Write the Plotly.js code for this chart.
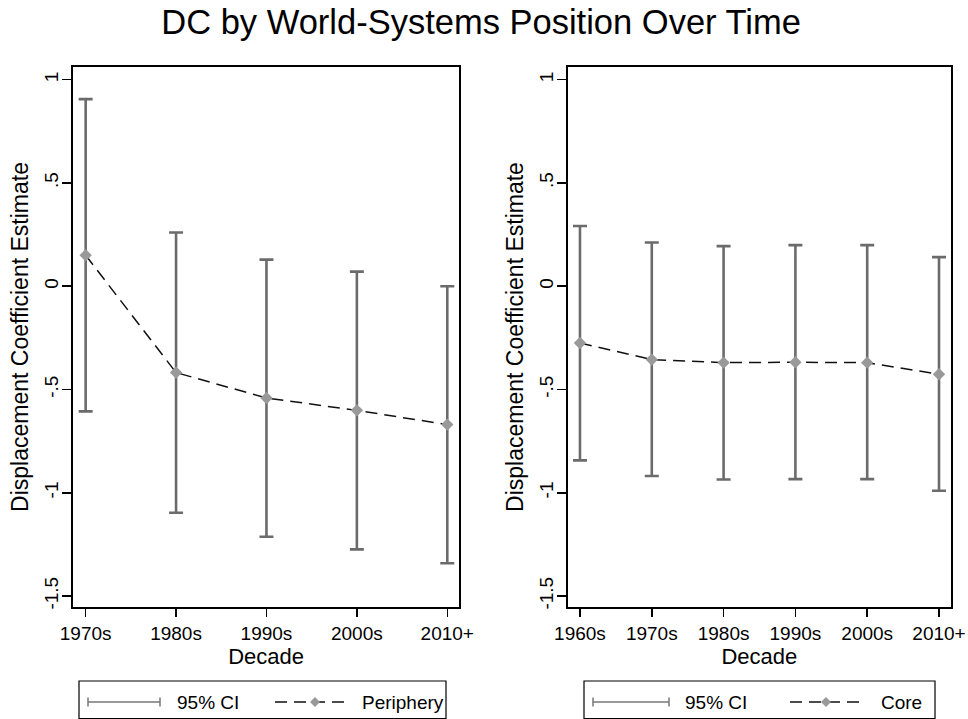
<!DOCTYPE html>
<html>
<head>
<meta charset="utf-8">
<script src="https://cdn.plot.ly/plotly-3.0.1.min.js"></script>
<style>html,body{margin:0;padding:0;background:#fff;}#chart{width:968px;height:719px;}</style>
</head>
<body>
<div id="chart"></div>
<script>
// ---- data ----
const periphDecades = ["1970s", "1980s", "1990s", "2000s", "2010+"];
const periphEst     = [0.150, -0.418, -0.541, -0.601, -0.670];
const periphUpper   = [0.906, 0.260, 0.129, 0.071, 0.000];
const periphLower   = [-0.606, -1.097, -1.213, -1.274, -1.341];

const coreDecades = ["1960s", "1970s", "1980s", "1990s", "2000s", "2010+"];
const coreEst     = [-0.275, -0.355, -0.370, -0.368, -0.370, -0.426];
const coreUpper   = [0.292, 0.212, 0.194, 0.199, 0.199, 0.141];
const coreLower   = [-0.843, -0.919, -0.936, -0.934, -0.934, -0.990];

const yTickVals = [1, 0.5, 0, -0.5, -1, -1.5];
const yTickText = ["1", ".5", "0", "-.5", "-1", "-1.5"];

const titleText = "DC by World-Systems Position Over Time";
const yTitle = "Displacement Coefficient Estimate";
const xTitle = "Decade";
const ciLabel = "95% CI";
const periphLabel = "Periphery";
const coreLabel = "Core";

// ---- styling ----
const FONT = "Liberation Sans, Arial, Helvetica, sans-serif";
const W = 968, H = 719;
const M = {l: 73, r: 17, t: 67, b: 112};
const PW = W - M.l - M.r, PH = H - M.t - M.b;
const px = x => (x - M.l) / PW;
const py = y => (H - M.b - y) / PH;

const ciColor = "#6b6b6b";
const markerColor = "#999999";

function seriesTraces(xs, est, up, lo, xa, ya) {
  const base = {type: "scatter", x: xs, y: est, xaxis: xa, yaxis: ya, showlegend: false, hoverinfo: "skip"};
  return [
    Object.assign({}, base, {
      mode: "markers", marker: {size: 0.1, opacity: 0},
      error_y: {
        type: "data", symmetric: false,
        array: up.map((u, i) => u - est[i]),
        arrayminus: lo.map((l, i) => est[i] - l),
        color: ciColor, thickness: 2.6, width: 7
      }
    }),
    Object.assign({}, base, {
      mode: "lines+markers",
      line: {color: "#111111", width: 1.5, dash: "12px,7px"},
      marker: {symbol: "diamond", size: 9.5, color: markerColor, line: {width: 0}}
    })
  ];
}

const traces = [
  ...seriesTraces(periphDecades, periphEst, periphUpper, periphLower, "x", "y"),
  ...seriesTraces(coreDecades, coreEst, coreUpper, coreLower, "x2", "y2")
];

const yAxisCommon = {
  range: [-1.553, 1.0615],
  tickmode: "array", tickvals: yTickVals, ticktext: yTickText,
  tickangle: -90, ticks: "outside", ticklen: 9, tickwidth: 1.5, tickcolor: "#000",
  ticklabelstandoff: -4,
  showline: true, linecolor: "#000", linewidth: 2, mirror: true,
  showgrid: false, zeroline: false,
  tickfont: {family: FONT, size: 19, color: "#000"},
  title: {text: yTitle, font: {family: FONT, size: 23, color: "#000"}, standoff: 6},
  automargin: false, fixedrange: true
};
const xAxisCommon = {
  type: "category",
  ticks: "outside", ticklen: 8, tickwidth: 1.5, tickcolor: "#000",
  showline: true, linecolor: "#000", linewidth: 2, mirror: true,
  showgrid: false, zeroline: false,
  tickfont: {family: FONT, size: 19, color: "#000"},
  title: {text: xTitle, font: {family: FONT, size: 22, color: "#000"}, standoff: 6},
  automargin: false, fixedrange: true
};

const layout = {
  width: W, height: H,
  margin: M,
  paper_bgcolor: "#fff", plot_bgcolor: "#fff",
  font: {family: FONT, color: "#000"},
  showlegend: false,
  title: {text: titleText, font: {family: FONT, size: 34.5, color: "#000"},
          x: 0.497, xref: "container", y: 1 - 22 / H, yref: "container", yanchor: "middle"},
  xaxis: Object.assign({}, xAxisCommon, {domain: [0, px(459.3)], range: [-0.14, 4.133], anchor: "y"}),
  yaxis: Object.assign({}, yAxisCommon, {domain: [0, 1], anchor: "x"}),
  xaxis2: Object.assign({}, xAxisCommon, {domain: [px(567.7), 1], range: [-0.171, 5.167], anchor: "y2"}),
  yaxis2: Object.assign({}, yAxisCommon, {domain: [0, 1], anchor: "x2"}),
  shapes: [],
  annotations: []
};

// ---- manual legends (one per panel) ----
function addLegend(box, ciX0, ciX1, ciTextX, dashX0, dashX1, diaX, label, labelX) {
  const yc = 702;
  layout.shapes.push({type: "rect", xref: "paper", yref: "paper",
    x0: px(box[0]), x1: px(box[1]), y0: py(718.5), y1: py(681),
    line: {color: "#000", width: 1.2}, fillcolor: "rgba(0,0,0,0)"});
  layout.shapes.push({type: "line", xref: "paper", yref: "paper",
    x0: px(ciX0), x1: px(ciX1), y0: py(yc), y1: py(yc), line: {color: "#777", width: 1.5}});
  [ciX0, ciX1].forEach(cx => layout.shapes.push({type: "line", xref: "paper", yref: "paper",
    x0: px(cx), x1: px(cx), y0: py(yc - 4.5), y1: py(yc + 4.5), line: {color: "#777", width: 1.5}}));
  layout.shapes.push({type: "line", xref: "paper", yref: "paper",
    x0: px(dashX0), x1: px(dashX1), y0: py(yc), y1: py(yc), line: {color: "#111", width: 1.3, dash: "12px,7px"}});
  const d = 5;
  layout.shapes.push({type: "path", xref: "paper", yref: "paper",
    path: `M ${px(diaX)},${py(yc - d)} L ${px(diaX + d)},${py(yc)} L ${px(diaX)},${py(yc + d)} L ${px(diaX - d)},${py(yc)} Z`,
    fillcolor: markerColor, line: {width: 0}});
  layout.annotations.push({xref: "paper", yref: "paper", x: px(ciTextX), y: py(yc), text: ciLabel,
    xanchor: "left", yanchor: "middle", showarrow: false, font: {family: FONT, size: 19, color: "#000"}});
  layout.annotations.push({xref: "paper", yref: "paper", x: px(labelX), y: py(yc), text: label,
    xanchor: "left", yanchor: "middle", showarrow: false, font: {family: FONT, size: 19, color: "#000"}});
}
addLegend([79, 446], 88, 160, 175, 275, 347, 315, periphLabel, 360);
addLegend([584, 935], 593, 669, 683, 790, 865, 826, coreLabel, 879);

Plotly.newPlot("chart", traces, layout, {displayModeBar: false, staticPlot: true});
</script>
</body>
</html>
